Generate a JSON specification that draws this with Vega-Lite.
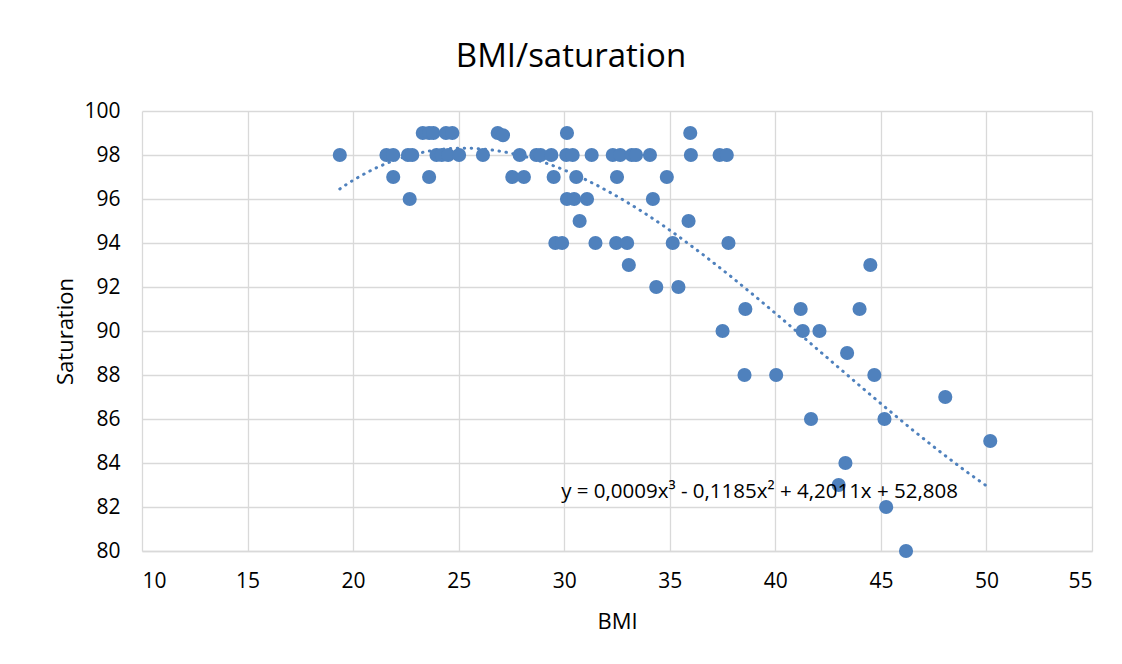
{
  "$schema": "https://vega.github.io/schema/vega-lite/v6.json",
  "width": 950,
  "height": 440,
  "autosize": {"type": "none"},
  "padding": {"left": 142, "top": 111, "right": 30, "bottom": 113},
  "background": "white",
  "config": {"view": {"stroke": null}, "font": "Open Sans"},
  "title": {"text": "BMI/saturation", "fontSize": 33, "font": "Open Sans", "fontWeight": "normal", "color": "#000000", "anchor": "middle", "dx": -46, "offset": 26},
  "datasets": {
    "points": [
      {"bmi": 23.3, "sat": 99}, {"bmi": 23.6, "sat": 99}, {"bmi": 23.8, "sat": 99}, {"bmi": 24.4, "sat": 99}, {"bmi": 24.7, "sat": 99},
      {"bmi": 26.85, "sat": 99}, {"bmi": 27.1, "sat": 98.9}, {"bmi": 30.13, "sat": 99}, {"bmi": 35.97, "sat": 99},
      {"bmi": 19.37, "sat": 98}, {"bmi": 21.58, "sat": 98}, {"bmi": 21.9, "sat": 98}, {"bmi": 22.6, "sat": 98}, {"bmi": 22.8, "sat": 98},
      {"bmi": 23.95, "sat": 98}, {"bmi": 24.2, "sat": 98}, {"bmi": 24.5, "sat": 98}, {"bmi": 25.02, "sat": 98}, {"bmi": 26.15, "sat": 98},
      {"bmi": 27.89, "sat": 98}, {"bmi": 28.68, "sat": 98}, {"bmi": 28.88, "sat": 98}, {"bmi": 29.39, "sat": 98}, {"bmi": 30.1, "sat": 98},
      {"bmi": 30.4, "sat": 98}, {"bmi": 31.3, "sat": 98}, {"bmi": 32.3, "sat": 98}, {"bmi": 32.65, "sat": 98}, {"bmi": 33.2, "sat": 98},
      {"bmi": 33.4, "sat": 98}, {"bmi": 34.06, "sat": 98}, {"bmi": 36.0, "sat": 98}, {"bmi": 37.36, "sat": 98}, {"bmi": 37.7, "sat": 98},
      {"bmi": 21.9, "sat": 97}, {"bmi": 23.6, "sat": 97}, {"bmi": 27.54, "sat": 97}, {"bmi": 28.09, "sat": 97}, {"bmi": 29.5, "sat": 97},
      {"bmi": 30.57, "sat": 97}, {"bmi": 32.5, "sat": 97}, {"bmi": 34.86, "sat": 97},
      {"bmi": 22.68, "sat": 96}, {"bmi": 30.13, "sat": 96}, {"bmi": 30.47, "sat": 96}, {"bmi": 31.08, "sat": 96}, {"bmi": 34.2, "sat": 96},
      {"bmi": 30.73, "sat": 95}, {"bmi": 35.89, "sat": 95},
      {"bmi": 29.58, "sat": 94}, {"bmi": 29.9, "sat": 94}, {"bmi": 31.48, "sat": 94}, {"bmi": 32.46, "sat": 94}, {"bmi": 32.98, "sat": 94},
      {"bmi": 35.14, "sat": 94}, {"bmi": 37.78, "sat": 94},
      {"bmi": 33.06, "sat": 93}, {"bmi": 44.5, "sat": 93},
      {"bmi": 34.36, "sat": 92}, {"bmi": 35.41, "sat": 92},
      {"bmi": 38.58, "sat": 91}, {"bmi": 41.2, "sat": 91}, {"bmi": 43.99, "sat": 91},
      {"bmi": 37.5, "sat": 90}, {"bmi": 41.3, "sat": 90}, {"bmi": 42.09, "sat": 90},
      {"bmi": 43.4, "sat": 89},
      {"bmi": 38.54, "sat": 88}, {"bmi": 40.04, "sat": 88}, {"bmi": 44.69, "sat": 88},
      {"bmi": 48.05, "sat": 87},
      {"bmi": 41.69, "sat": 86}, {"bmi": 45.17, "sat": 86},
      {"bmi": 50.18, "sat": 85},
      {"bmi": 43.32, "sat": 84},
      {"bmi": 43.0, "sat": 83},
      {"bmi": 45.25, "sat": 82},
      {"bmi": 46.19, "sat": 80}
    ],
    "label": [
      {"bmi": 39.25, "sat": 82.68, "text": "y = 0,0009x³ - 0,1185x² + 4,2011x + 52,808"}
    ]
  },
  "layer": [
    {
      "data": {"name": "points"},
      "transform": [{"regression": "sat", "on": "bmi", "method": "poly", "order": 3}],
      "mark": {"type": "line", "color": "#4f81bd", "strokeWidth": 3, "strokeDash": [0.5, 6.5], "strokeCap": "round"},
      "encoding": {
        "x": {"field": "bmi", "type": "quantitative", "scale": {"domain": [10, 55], "nice": false, "zero": false},
          "axis": {"title": "BMI", "values": [10, 15, 20, 25, 30, 35, 40, 45, 50, 55], "grid": true, "gridColor": "#d9d9d9", "gridWidth": 1.3,
            "domainColor": "#d9d9d9", "domainWidth": 1.3, "ticks": false, "tickSize": 0, "labelFontSize": 21, "labelPadding": 19,
            "labelColor": "#000000", "titleColor": "#000000", "titleFontSize": 22, "titleFontWeight": "normal", "titlePadding": 20, "labelFont": "Open Sans", "titleFont": "Open Sans"}},
        "y": {"field": "sat", "type": "quantitative", "scale": {"domain": [80, 100], "nice": false, "zero": false},
          "axis": {"title": "Saturation", "values": [80, 82, 84, 86, 88, 90, 92, 94, 96, 98, 100], "grid": true, "gridColor": "#d9d9d9", "gridWidth": 1.3,
            "domain": false, "ticks": false, "tickSize": 0, "labelFontSize": 21, "labelPadding": 22,
            "labelColor": "#000000", "titleColor": "#000000", "titleFontSize": 22, "titleFontWeight": "normal", "titlePadding": 6, "labelFont": "Open Sans", "titleFont": "Open Sans"}}
      }
    },
    {
      "data": {"name": "points"},
      "mark": {"type": "circle", "size": 200, "color": "#4f81bd", "opacity": 1},
      "encoding": {
        "x": {"field": "bmi", "type": "quantitative"},
        "y": {"field": "sat", "type": "quantitative"}
      }
    },
    {
      "data": {"name": "label"},
      "mark": {"type": "text", "fontSize": 20.5, "font": "Open Sans", "color": "#000000", "align": "center", "baseline": "middle"},
      "encoding": {
        "x": {"field": "bmi", "type": "quantitative"},
        "y": {"field": "sat", "type": "quantitative"},
        "text": {"field": "text"}
      }
    }
  ]
}
